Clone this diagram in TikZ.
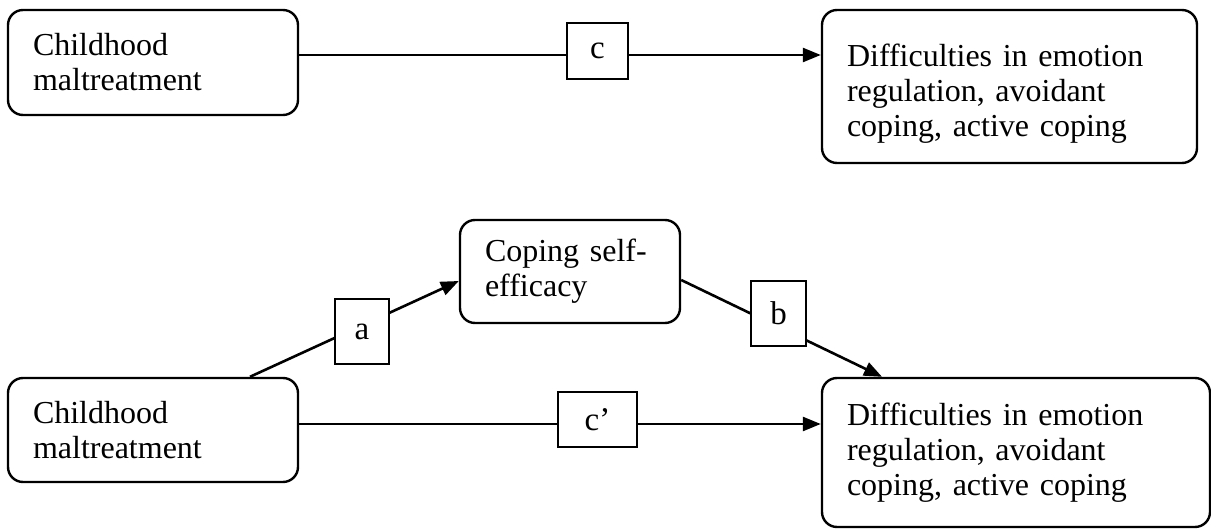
\documentclass[tikz,border=0pt]{standalone}
\usepackage{fontspec}
\setmainfont{Liberation Serif}
\usepackage{tikz}
\usetikzlibrary{arrows.meta}
\tikzset{
  varbox/.style={
    draw=black,fill=white,rounded corners=7.5pt,line width=1.2pt,
    font=\fontsize{16}{17.5}\selectfont,
    align=left,inner xsep=12.5pt,inner ysep=0pt
  },
  lblbox/.style={
    draw=black,fill=white,line width=0.9pt,
    font=\fontsize{16.5}{18}\selectfont,
    inner sep=0pt
  },
  path/.style={
    draw=black,line width=1.3pt,-{Triangle[length=9pt,width=7pt]}
  },
}
\begin{document}
\begin{tikzpicture}[x=0.5pt,y=-0.5pt]
  \useasboundingbox (0,0) rectangle (1211,529);
  % Total effect (top)
  \node[varbox, minimum width=145pt, minimum height=52.5pt, text width=120pt] (mal1) at (153, 62.5) {Childhood\\maltreatment};
  \node[varbox, minimum width=187.5pt, minimum height=76.5pt, text width=162.5pt] (dv1) at (1009.5, 86.5) {\raisebox{-3.5pt}[\height][\depth]{\parbox{162.5pt}{Difficulties in emotion\\regulation, avoidant\\coping, active coping}}};
  \draw[path] ([yshift=3.75pt]mal1.east) -- ([yshift=3.75pt]mal1.east -| dv1.west);
  \node[lblbox, minimum width=30.5pt, minimum height=28pt] (lc) at (597.5, 51) {c};
  % Mediation model (bottom)
  \node[varbox, minimum width=145pt, minimum height=52pt, text width=120pt] (mal2) at (153, 430) {Childhood\\maltreatment};
  \node[varbox, minimum width=110pt, minimum height=51.5pt, text width=85pt] (cse) at (570, 271.5) {Coping self-\\efficacy};
  \node[varbox, minimum width=194pt, minimum height=74.5pt, text width=169pt] (dv2) at (1016, 452.5) {Difficulties in emotion\\regulation, avoidant\\coping, active coping};
  \draw[path] ([xshift=48.5pt]mal2.north) -- ([yshift=-4.75pt]cse.west);
  \draw[path] ([yshift=-4.25pt]cse.east) -- ([xshift=-67pt]dv2.north);
  \draw[path] ([yshift=3pt]mal2.east) -- ([yshift=3pt]mal2.east -| dv2.west);
  \node[lblbox, minimum width=27pt, minimum height=32.5pt] (la) at (362, 331.5) {a};
  \node[lblbox, minimum width=27.5pt, minimum height=32.5pt] (lb) at (778.5, 313.5) {b};
  \node[lblbox, minimum width=39.5pt, minimum height=27.5pt] (lcp) at (597.5, 419.5) {c’};
\end{tikzpicture}
\end{document}
